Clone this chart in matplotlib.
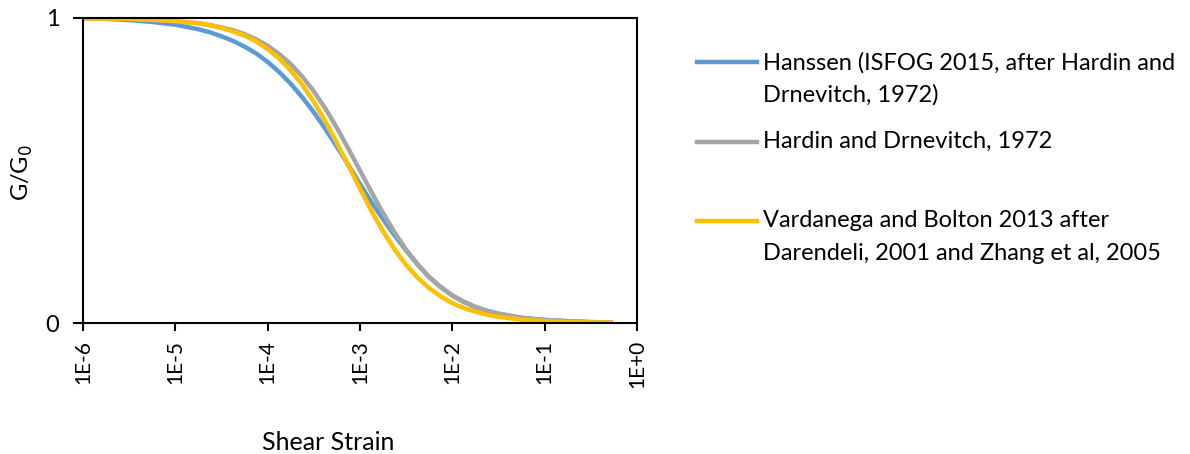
import matplotlib
matplotlib.use("Agg")
import matplotlib.pyplot as plt
from matplotlib.lines import Line2D
from matplotlib.ticker import FixedLocator, NullLocator

# ---- data ----
strain = [1e-6, 1.78e-6, 3.16e-6, 5.62e-6, 1e-5, 1.78e-5, 2.37e-5, 3.16e-5,
          4.22e-5, 5.62e-5, 7.5e-5, 1e-4, 1.33e-4, 1.78e-4, 2.37e-4, 3.16e-4,
          4.22e-4, 5.62e-4, 7.5e-4, 1e-3, 1.33e-3, 1.78e-3, 2.37e-3, 3.16e-3,
          4.22e-3, 5.62e-3, 7.5e-3, 1e-2, 1.33e-2, 1.78e-2, 2.37e-2, 3.16e-2,
          5.62e-2, 1e-1, 1.78e-1, 3.16e-1, 5.5e-1]

hanssen = [0.999, 0.997, 0.993, 0.987, 0.978, 0.963, 0.953, 0.940,
           0.925, 0.906, 0.884, 0.856, 0.823, 0.784, 0.740, 0.691,
           0.636, 0.578, 0.517, 0.456, 0.396, 0.340, 0.287, 0.238,
           0.191, 0.150, 0.117, 0.090, 0.069, 0.052, 0.040, 0.030,
           0.017, 0.010, 0.006, 0.003, 0.002]

hardin = [0.999, 0.998, 0.997, 0.994, 0.990, 0.983, 0.977, 0.969,
          0.960, 0.947, 0.930, 0.909, 0.882, 0.849, 0.808, 0.760,
          0.703, 0.640, 0.571, 0.500, 0.429, 0.360, 0.297, 0.240,
          0.192, 0.151, 0.118, 0.091, 0.070, 0.053, 0.040, 0.031,
          0.017, 0.010, 0.006, 0.003, 0.002]

vardanega = [0.999, 0.998, 0.997, 0.994, 0.990, 0.982, 0.976, 0.967,
             0.956, 0.942, 0.923, 0.898, 0.867, 0.828, 0.781, 0.725,
             0.660, 0.590, 0.515, 0.440, 0.367, 0.300, 0.241, 0.190,
             0.148, 0.114, 0.087, 0.065, 0.049, 0.037, 0.027, 0.020,
             0.011, 0.006, 0.003, 0.002, 0.001]

series_labels = [["Hanssen (ISFOG 2015, after Hardin and", "Drnevitch, 1972)"],
                 ["Hardin and Drnevitch, 1972"],
                 ["Vardanega and Bolton 2013 after",
                  "Darendeli, 2001 and Zhang et al, 2005"]]
series_colors = ["#5B9BD5", "#A5A5A5", "#FFC000"]

x_ticks = [1e-6, 1e-5, 1e-4, 1e-3, 1e-2, 1e-1, 1e0]
x_tick_labels = ["1E-6", "1E-5", "1E-4", "1E-3", "1E-2", "1E-1", "1E+0"]
y_ticks = [0, 1]
y_tick_labels = ["0", "1"]

plt.rcParams['font.family'] = ['Lato', 'DejaVu Sans']

W, H = 1190, 454
fig = plt.figure(figsize=(W / 100, H / 100), dpi=100)
ax = fig.add_axes([83 / W, 1 - 323 / H, (637 - 83) / W, (323 - 18) / H])

lw = 3.2
for ys, c in zip([hanssen, hardin, vardanega], series_colors):
    ax.plot(strain, ys, color=c, lw=lw, solid_capstyle='butt',
            solid_joinstyle='round', zorder=2)

ax.set_xscale('log')
ax.set_xlim(1e-6, 1e0)
ax.set_ylim(0, 1)
ax.xaxis.set_major_locator(FixedLocator(x_ticks))
ax.xaxis.set_minor_locator(NullLocator())
ax.set_xticklabels(x_tick_labels, rotation=90, fontsize=15)
ax.set_yticks(y_ticks)
ax.set_yticklabels(y_tick_labels, fontsize=17)
ax.tick_params(axis='x', direction='out', length=6, width=1.5, color='black', pad=6)
ax.tick_params(axis='y', direction='out', length=7, width=1.5, color='black', pad=10)
for s in ax.spines.values():
    s.set_linewidth(1.5)
    s.set_color('black')

fig.text(328 / W, 1 - 450 / H, "Shear Strain", fontsize=18, ha='center',
         va='baseline')
fig.text(22 / W, 1 - 173 / H, "G/G$_0$", fontsize=17, ha='center',
         va='center', rotation=90)

# legend drawn manually
leg_line_y = [62, 142, 221]
leg_baselines = [[70, 101.5], [148], [227, 259.5]]
for yy, c, lines, bls in zip(leg_line_y, series_colors, series_labels, leg_baselines):
    fy = 1 - yy / H
    fig.add_artist(Line2D([697 / W, 757 / W], [fy, fy], color=c, lw=lw,
                          transform=fig.transFigure))
    for txt, bl in zip(lines, bls):
        fig.text(763 / W, 1 - bl / H, txt, fontsize=17, ha='left',
                 va='baseline')

fig.savefig("out.png", dpi=100)
